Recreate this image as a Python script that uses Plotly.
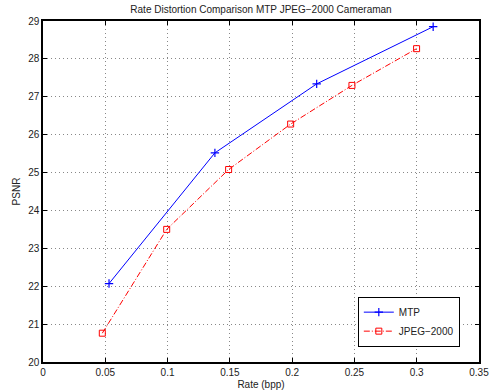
import plotly.graph_objects as go

rate_mtp = [0.053, 0.138, 0.2197, 0.3132]
psnr_mtp = [22.07, 25.52, 27.34, 28.85]
rate_jpeg = [0.0476, 0.0993, 0.149, 0.1988, 0.248, 0.2999]
psnr_jpeg = [20.76, 23.50, 25.08, 26.28, 27.30, 28.27]

x_ticks = [0, 0.05, 0.1, 0.15, 0.2, 0.25, 0.3, 0.35]
x_tick_labels = ["0", "0.05", "0.1", "0.15", "0.2", "0.25", "0.3", "0.35"]
y_ticks = list(range(20, 30))

font = "Liberation Sans, Arial, sans-serif"

fig = go.Figure()
fig.add_trace(go.Scatter(
    x=rate_mtp, y=psnr_mtp, name="MTP", mode="lines+markers",
    line=dict(color="#0000ff", width=1),
    marker=dict(symbol="cross-thin", size=6, line=dict(color="#0000ff", width=1.2), color="#0000ff"),
))
fig.add_trace(go.Scatter(
    x=rate_jpeg, y=psnr_jpeg, name="JPEG\u22122000", mode="lines+markers",
    line=dict(color="#ff0000", width=1, dash="6px,2px,1px,2px"),
    marker=dict(symbol="square-open", size=6, line=dict(color="#ff0000", width=1), color="#ff0000"),
))

axis_common = dict(
    showline=True, linecolor="black", linewidth=1.5, mirror="ticks",
    ticks="inside", ticklen=4, tickcolor="black", automargin=False,
    showgrid=True, gridcolor="#888888", griddash="1px,3px", gridwidth=1,
    zeroline=False, tickfont=dict(size=10, color="#222222", family=font),
)

fig.update_xaxes(range=[0, 0.35], tickvals=x_ticks, ticktext=x_tick_labels,
                 title=dict(text="Rate (bpp)", font=dict(size=10, color="#222222", family=font), standoff=4),
                 **axis_common)
fig.update_yaxes(range=[20, 29], tickvals=y_ticks,
                 title=dict(text="PSNR", font=dict(size=10, color="#222222", family=font), standoff=6),
                 **axis_common)

fig.update_layout(
    width=493, height=391,
    margin=dict(l=43, r=14, t=21, b=29),
    paper_bgcolor="white", plot_bgcolor="white",
    title=dict(text="Rate Distortion Comparison MTP JPEG\u22122000 Cameraman",
               font=dict(size=10, color="#222222", family=font),
               x=0.5 + (43 - 14) / 2 / 493, xanchor="center", y=1 - 9 / 391, yanchor="middle"),
    legend=dict(x=0.956, y=0.045, xanchor="right", yanchor="bottom",
                bordercolor="black", borderwidth=1, bgcolor="white",
                font=dict(size=10, color="#222222", family=font),
                tracegroupgap=0, itemwidth=30),
    showlegend=True,
)

fig.write_html("out.html")
